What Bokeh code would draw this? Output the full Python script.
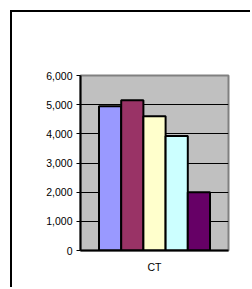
from bokeh.plotting import figure
from bokeh.models import FactorRange, Range1d, ColumnDataSource, NumeralTickFormatter, FixedTicker
from bokeh.transform import dodge
from bokeh.embed import file_html
from bokeh.resources import INLINE

categories = ["CT"]
series = ["S1", "S2", "S3", "S4", "S5"]
values = [4950, 5150, 4600, 3930, 2000]
colors = ["#9999FF", "#993366", "#FFFFCC", "#CCFFFF", "#660066"]
y_ticks = [0, 1000, 2000, 3000, 4000, 5000, 6000]

p = figure(width=240, height=277, x_range=FactorRange(factors=categories),
           y_range=Range1d(0, 6000), output_backend="svg", toolbar_location=None,
           min_border_left=68, min_border_top=63, min_border_right=24, min_border_bottom=39)
# outer chart-area frame: only its left and top edges fall inside the window
p.styles = {"margin-left": "12px", "margin-top": "12px",
            "box-shadow": "-2px -2px 0px 0px black"}

p.background_fill_color = "#C0C0C0"
p.border_fill_color = "white"
p.outline_line_color = "#808080"
p.outline_line_width = 2

offsets = [-0.3, -0.15, 0.0, 0.15, 0.3]
for name, v, c, off in zip(series, values, colors, offsets):
    src = ColumnDataSource(dict(x=categories, top=[v]))
    p.vbar(x=dodge("x", off, range=p.x_range), top="top", width=0.15, source=src,
           fill_color=c, line_color="black", line_width=2)

p.xgrid.grid_line_color = None
p.ygrid.grid_line_color = "black"
p.ygrid.grid_line_width = 1

p.yaxis.ticker = FixedTicker(ticks=y_ticks)
p.yaxis.formatter = NumeralTickFormatter(format="0,0")
p.yaxis.axis_line_color = "black"
p.yaxis.axis_line_width = 2
p.yaxis.major_tick_line_color = "black"
p.yaxis.major_tick_out = 4
p.yaxis.major_tick_in = 0
p.yaxis.minor_tick_line_color = None
p.yaxis.major_label_standoff = 4
p.yaxis.major_label_text_font = "Liberation Sans"
p.yaxis.major_label_text_font_size = "10.5px"
p.yaxis.major_label_text_color = "black"

p.xaxis.axis_line_color = "black"
p.xaxis.axis_line_width = 2
p.xaxis.major_tick_line_color = None
p.xaxis.major_label_standoff = 4
p.xaxis.major_label_text_font = "Liberation Sans"
p.xaxis.major_label_text_font_size = "10.5px"
p.xaxis.major_label_text_color = "black"

open("out.html", "w").write(file_html(p, INLINE))
